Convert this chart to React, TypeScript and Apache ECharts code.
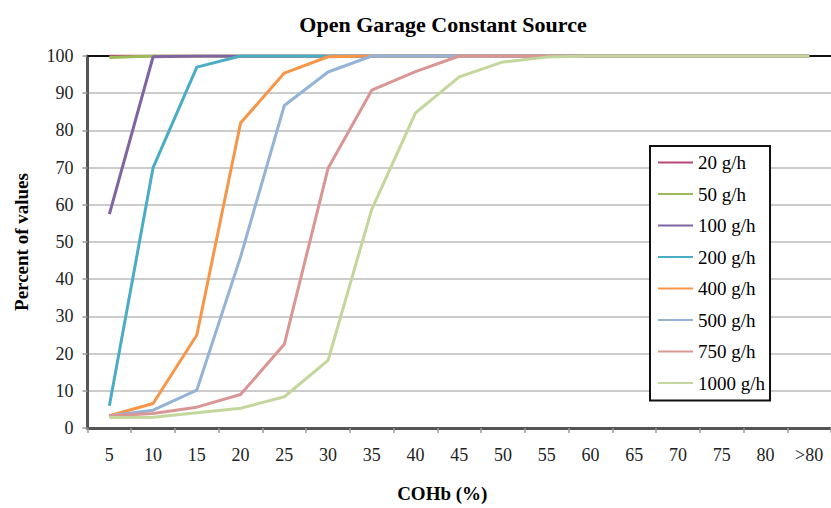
import React, { useEffect, useRef } from "react";
import * as echarts from "echarts";

const categories = ["5", "10", "15", "20", "25", "30", "35", "40", "45", "50", "55", "60", "65", "70", "75", "80", ">80"];
const seriesNames = ["20 g/h", "50 g/h", "100 g/h", "200 g/h", "400 g/h", "500 g/h", "750 g/h", "1000 g/h"];
const seriesColors = ["#b9487a", "#9bbb59", "#8064a2", "#4bacc6", "#f79646", "#95b3d7", "#d99694", "#c3d69b"];

const s20 = [100, 100, 100, 100, 100, 100, 100, 100, 100, 100, 100, 100, 100, 100, 100, 100, 100];
const s50 = [99.6, 100, 100, 100, 100, 100, 100, 100, 100, 100, 100, 100, 100, 100, 100, 100, 100];
const s100 = [57.5, 99.8, 100, 100, 100, 100, 100, 100, 100, 100, 100, 100, 100, 100, 100, 100, 100];
const s200 = [6, 70, 97, 100, 100, 100, 100, 100, 100, 100, 100, 100, 100, 100, 100, 100, 100];
const s400 = [3.3, 6.6, 25, 82, 95.4, 99.8, 100, 100, 100, 100, 100, 100, 100, 100, 100, 100, 100];
const s500 = [3.3, 4.8, 10.2, 46, 86.7, 95.7, 100, 100, 100, 100, 100, 100, 100, 100, 100, 100, 100];
const s750 = [3.3, 3.9, 5.6, 9, 22.5, 69.8, 90.8, 95.8, 100, 100, 100, 100, 100, 100, 100, 100, 100];
const s1000 = [2.8, 2.9, 4.1, 5.3, 8.4, 18.2, 58.8, 84.7, 94.4, 98.4, 99.7, 100, 100, 100, 100, 100, 100];

const seriesData = [s20, s50, s100, s200, s400, s500, s750, s1000];

const FONT = "Liberation Serif, Times New Roman, serif";

export default function App() {
  const ref = useRef<HTMLDivElement>(null);

  useEffect(() => {
    document.body.style.margin = "0";
    document.body.style.overflow = "hidden";
    if (!ref.current) return;
    const chart = echarts.init(ref.current, null, { renderer: "svg" });
    chart.setOption({
      animation: false,
      backgroundColor: "#ffffff",
      title: {
        text: "Open Garage Constant Source",
        left: 438,
        textAlign: "center",
        top: 8,
        textStyle: { fontFamily: FONT, fontSize: 22, fontWeight: "bold", color: "#000" },
      },
      legend: {
        orient: "vertical",
        left: 650,
        top: 146,
        padding: [7, 5, 8, 7],
        itemGap: 12.5,
        itemWidth: 35,
        itemHeight: 18,
        itemTextGap: 1,
        backgroundColor: "#ffffff",
        borderColor: "#111",
        borderWidth: 2,
        itemStyle: { opacity: 0 },
        textStyle: { fontFamily: FONT, fontSize: 19, color: "#000", lineHeight: 19 },
        data: seriesNames,
      },
      grid: { left: 87.5, top: 56, width: 751.5, height: 372, containLabel: false },
      xAxis: [
        {
          type: "category",
          data: categories,
          boundaryGap: true,
          position: "bottom",
          name: "COHb (%)",
          nameLocation: "middle",
          nameGap: 56,
          nameTextStyle: { fontFamily: FONT, fontSize: 19, fontWeight: "bold", color: "#000", padding: [0, 34, 0, 0] },
          axisLine: { lineStyle: { color: "#555", width: 3 } },
          axisTick: { show: true, interval: 0, alignWithLabel: false, length: 5, lineStyle: { color: "#999", width: 1.5 } },
          axisLabel: { interval: 0, margin: 18, fontFamily: FONT, fontSize: 18, color: "#222" },
          splitLine: { show: false },
        },
        {
          type: "category",
          data: categories,
          position: "top",
          axisLine: { lineStyle: { color: "#111", width: 2 } },
          axisTick: { show: false },
          axisLabel: { show: false },
          splitLine: { show: false },
        },
      ],
      yAxis: {
        type: "value",
        min: 0,
        max: 100,
        interval: 10,
        name: "Percent of values",
        nameLocation: "middle",
        nameGap: 57,
        nameTextStyle: { fontFamily: FONT, fontSize: 19, fontWeight: "bold", color: "#000" },
        axisLine: { show: true, lineStyle: { color: "#555", width: 3 } },
        axisTick: { show: true, length: 5, lineStyle: { color: "#999", width: 1.5 } },
        axisLabel: { margin: 14, fontFamily: FONT, fontSize: 18, color: "#222" },
        splitLine: { show: true, lineStyle: { color: "#cccccc", width: 2 } },
      },
      series: seriesNames.map((name, i) => ({
        name,
        type: "line",
        data: seriesData[i],
        symbol: "none",
        showSymbol: false,
        color: seriesColors[i],
        lineStyle: { color: seriesColors[i], width: 3 },
        xAxisIndex: 0,
        yAxisIndex: 0,
      })),
    });
    return () => chart.dispose();
  }, []);

  return <div ref={ref} style={{ width: 831, height: 508 }} />;
}
